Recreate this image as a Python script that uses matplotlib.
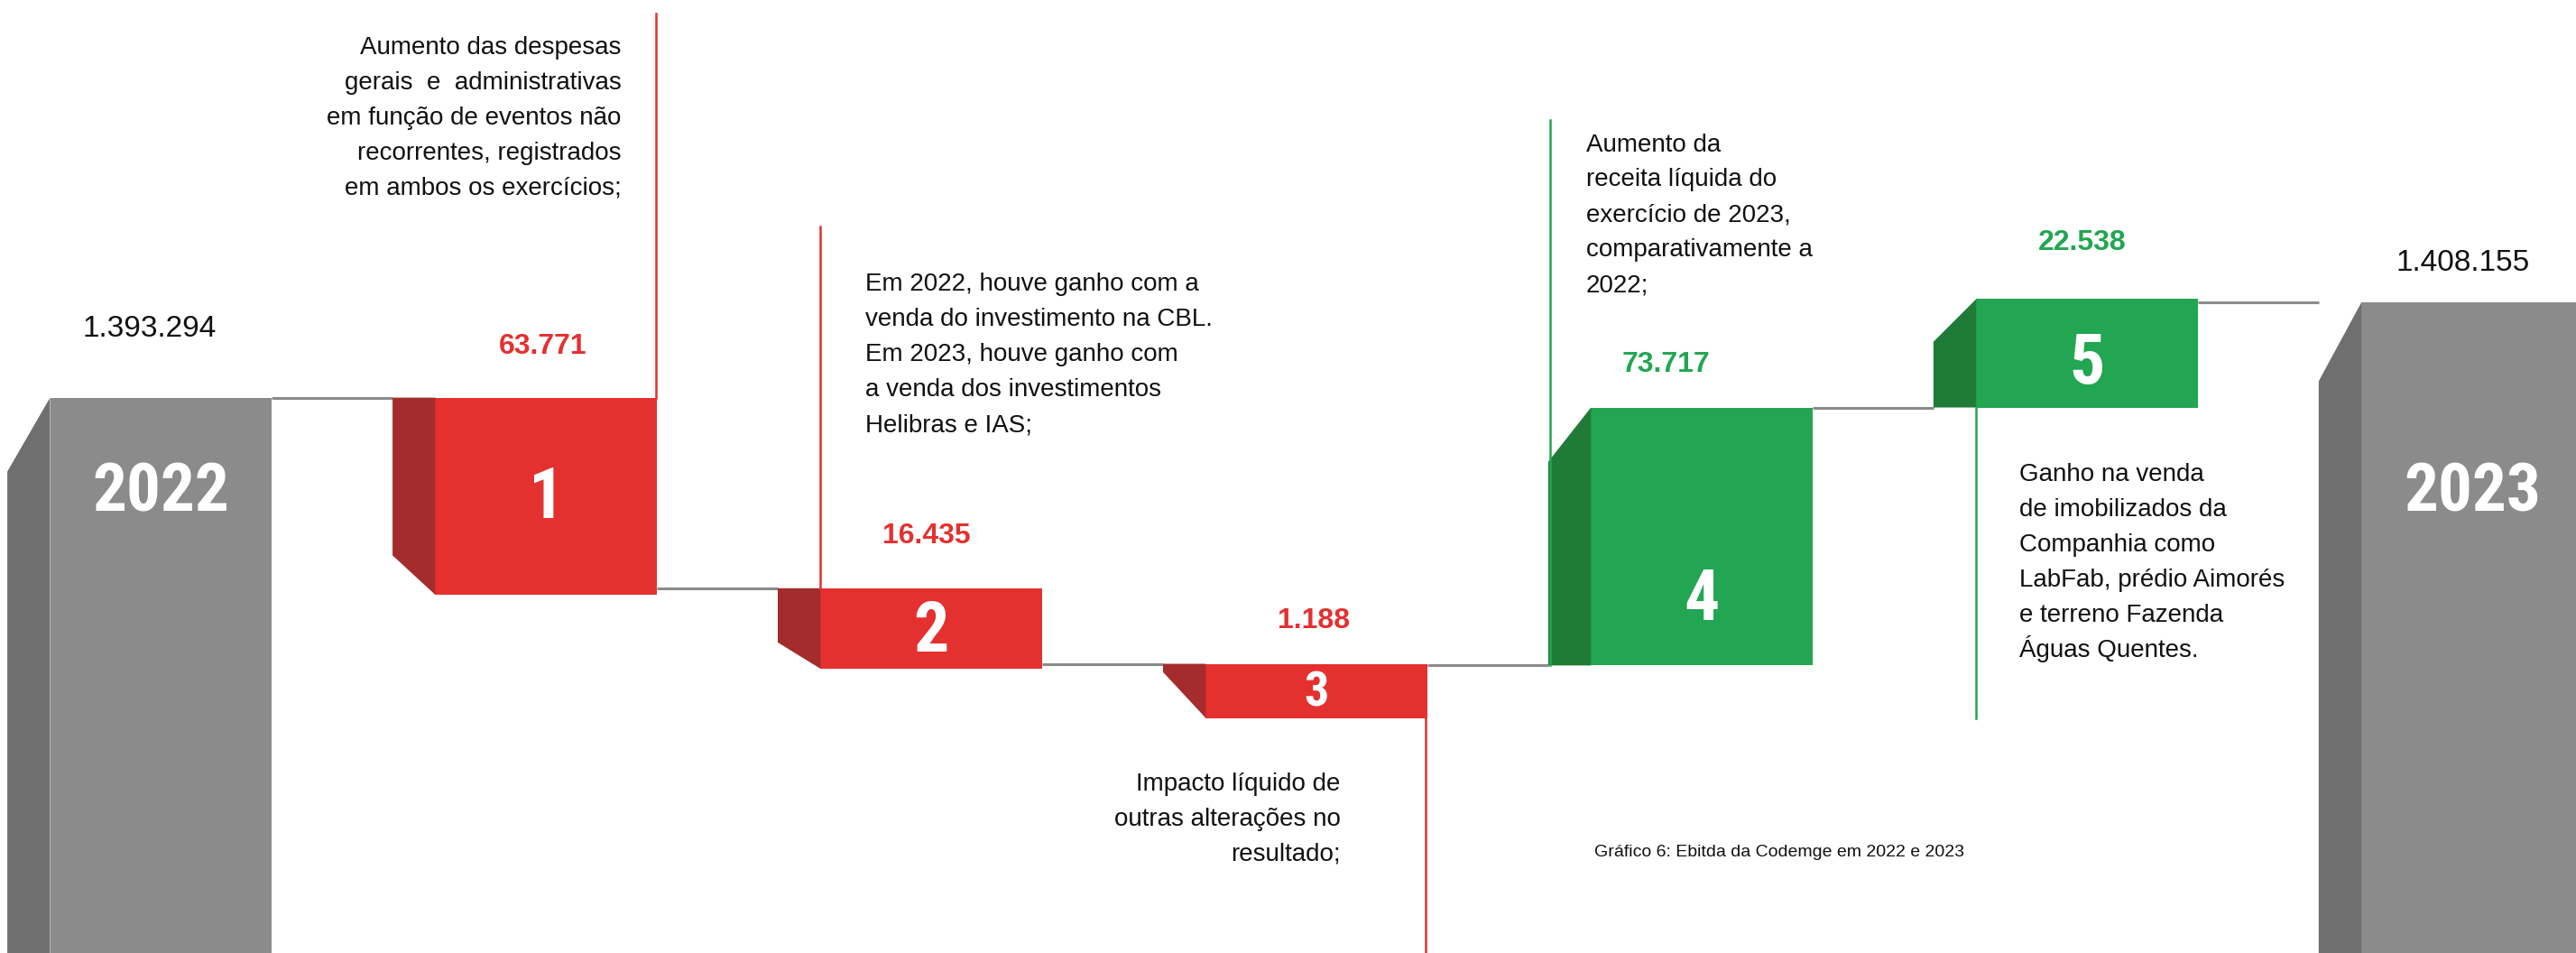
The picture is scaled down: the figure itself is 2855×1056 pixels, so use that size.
import numpy as np
import matplotlib
matplotlib.use("Agg")
import matplotlib.pyplot as plt
from matplotlib.patches import Polygon
from matplotlib import font_manager

# Ebitda da Codemge 2022 -> 2023 (R$ mil)
etapas = ["2022", "1", "2", "3", "4", "5", "2023"]
valores = [1393294, 63771, 16435, 1188, 73717, 22538, 1408155]
tipo = ["total", "queda", "queda", "queda", "alta", "alta", "total"]
# o grafico original nao esta em escala: topo/base
topo = [338, 338, 222, 176, 332, 398, 396]
base = [0, 218, 173, 143, 175, 332, 0]

notas = [
    "Aumento das despesas\ngerais  e  administrativas\nem função de eventos não\nrecorrentes, registrados\nem ambos os exercícios;",
    "Em 2022, houve ganho com a\nvenda do investimento na CBL.\nEm 2023, houve ganho com\na venda dos investimentos\nHelibras e IAS;",
    "Impacto líquido de\noutras alterações no\nresultado;",
    "Aumento da\nreceita líquida do\nexercício de 2023,\ncomparativamente a\n2022;",
    "Ganho na venda\nde imobilizados da\nCompanhia como\nLabFab, prédio Aimorés\ne terreno Fazenda\nÁguas Quentes.",
]
legenda = "Gráfico 6: Ebitda da Codemge em 2022 e 2023"

# fontes
nomes = {f.name for f in font_manager.fontManager.ttflist}
def escolher(*opcoes):
    for n in opcoes:
        if n in nomes:
            return n
    return "DejaVu Sans"

fonte_texto = escolher("Liberation Sans", "Open Sans")
fonte_num = escolher("Liberation Sans Narrow", "DejaVu Sans Condensed", "Roboto Condensed", "Liberation Sans")
plt.rcParams["font.family"] = [fonte_texto, "DejaVu Sans"]

cor_frente = {"total": "#8b8b8b", "queda": "#e53030", "alta": "#22a651"}
cor_lado = {"total": "#6f6f6f", "queda": "#a52c2c", "alta": "#207b36"}
cor_valor = {"total": "#111111", "queda": "#e53030", "alta": "#22a651"}

fig = plt.figure(figsize=(28.55, 10.56), dpi=100)
ax = fig.add_axes([0, 0, 1, 1])
ax.set_xlim(-0.418, 6.269)
ax.set_ylim(0, 580)
ax.axis("off")

x = np.arange(len(etapas))
topo = np.array(topo)
base = np.array(base)
larg = 0.576     # face da frente
lado = 0.111     # face lateral (efeito 3D)
chanfro = [45, 24, 16, 28, 33, 26, 48]
px = 1 / 234.5   # um pixel do desenho em unidades do eixo x

# faces da frente
ax.bar(x, topo - base, bottom=base, width=larg,
       color=[cor_frente[t] for t in tipo], zorder=3, linewidth=0)

# faces laterais
for i in range(len(x)):
    xf = x[i] - larg / 2
    xl = xf - lado
    if tipo[i] == "queda":
        pts = [(xf, topo[i]), (xl, topo[i]), (xl, base[i] + chanfro[i]), (xf, base[i])]
    else:
        pts = [(xf, topo[i]), (xl, topo[i] - chanfro[i]), (xl, base[i]), (xf, base[i])]
    ax.add_patch(Polygon(pts, closed=True, facecolor=cor_lado[tipo[i]], lw=0, zorder=3))

# conectores cinza
for i in range(len(x) - 1):
    j = i + 1
    nivel = base[j] if tipo[j] == "alta" else topo[j]
    ax.plot([x[i] + larg / 2, x[j] - larg / 2 - lado], [nivel, nivel],
            color="#8b8b8b", lw=2.2, zorder=2, solid_capstyle="butt")

# valores acima das barras
folga = [42, 31, 32, 26, 26, 34, 24]
dx_valor = [-7, -2, -3, -2, -22, -3, -6]
for i in range(len(x)):
    txt = f"{valores[i]:,}".replace(",", ".")
    peso = "normal" if tipo[i] == "total" else "bold"
    tam = 24 if tipo[i] == "total" else 23
    ax.text(x[i] + dx_valor[i] * px, topo[i] + folga[i], txt, ha="center", va="center",
            fontsize=tam, fontweight=peso, color=cor_valor[tipo[i]], zorder=5)

# numero/ano dentro das barras
pos_rotulo = [280, 276, 195, 158, 214, 358, 280]
tam_rotulo = [54, 56, 56, 39, 56, 56, 54]
for i in range(len(x)):
    ax.text(x[i], pos_rotulo[i], etapas[i], ha="center", va="center",
            fontsize=tam_rotulo[i], fontweight="bold", color="white",
            family=fonte_num, zorder=5)

# linhas de chamada: (barra, borda, inicio, ponta)
chamadas = [(1, "dir", "topo", 572), (2, "esq", "topo", 442), (3, "dir", "base", 0),
            (4, "lado", "base", 507), (5, "esq", "base", 143)]
for (i, borda, ini, ponta) in chamadas:
    xe = {"dir": x[i] + larg / 2 - 1 * px, "esq": x[i] - larg / 2,
          "lado": x[i] - larg / 2 - lado + 1 * px}[borda]
    y0 = topo[i] if ini == "topo" else base[i]
    ax.plot([xe, xe], [y0, ponta], color=cor_frente[tipo[i]], lw=1.8, zorder=4)

# textos explicativos, linha a linha (espacamento constante)
passo = 21.4
pos_nota = [(1, "dir", -22, 547, "right"), (2, "esq", 27, 403, "left"),
            (3, "dir", -53, 99, "right"), (4, "lado", 23, 488, "left"),
            (5, "esq", 26, 287, "left")]
for nota, (i, borda, dx, yb, ha) in zip(notas, pos_nota):
    xe = {"dir": x[i] + larg / 2, "esq": x[i] - larg / 2,
          "lado": x[i] - larg / 2 - lado}[borda]
    for k, linha in enumerate(nota.split("\n")):
        ax.text(xe + dx * px, yb - k * passo, linha, ha=ha, va="baseline",
                fontsize=20, color="#111111", zorder=5)

fig.text(1083 / 1568, 61 / 580, legenda, ha="center", va="center",
         fontsize=14, color="#111111")

fig.savefig("out.png", dpi=100, facecolor="white")
